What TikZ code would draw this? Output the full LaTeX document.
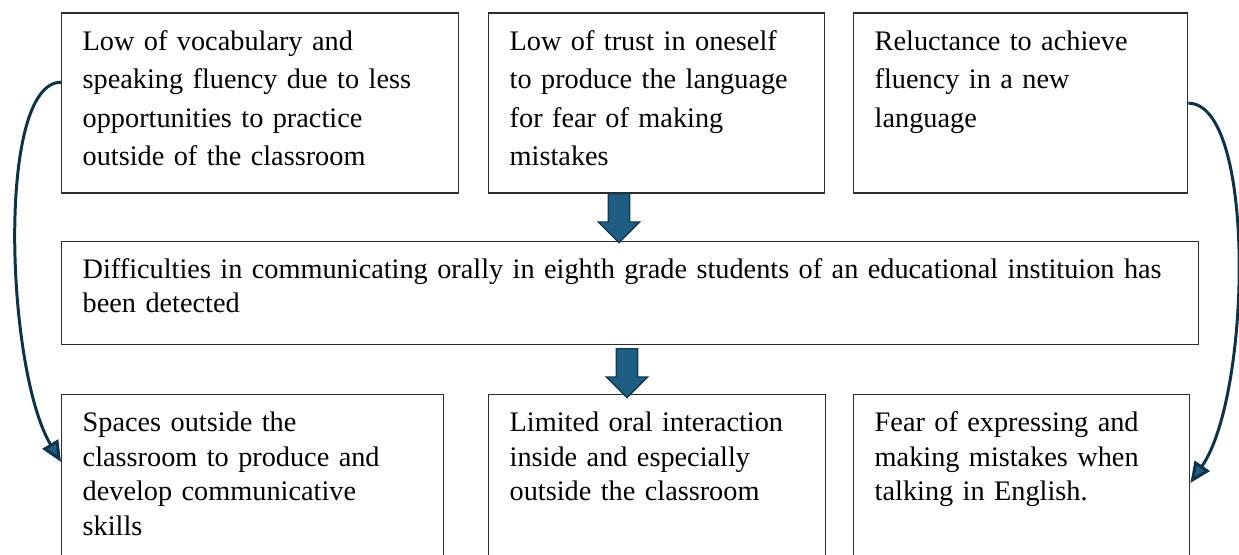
\documentclass[tikz,border=0pt]{standalone}
\usepackage{fontspec}
\setmainfont{Liberation Serif}
\usepackage{tikz}
\usetikzlibrary{arrows.meta,shapes.arrows}

\definecolor{blockblau}{RGB}{31,94,130}
\definecolor{blockrand}{RGB}{20,56,78}
\definecolor{bogenblau}{RGB}{14,50,71}
\definecolor{rahmen}{RGB}{45,45,45}

\begin{document}
\begin{tikzpicture}[x=0.02cm, y=-0.02cm,
		kasten/.style={draw=rahmen, line width=0.8pt, anchor=north west, align=left,
			inner xsep=0.42cm, inner ysep=0.2cm, text height=0.54cm},
		oben/.style={kasten, text depth=2.66cm, font=\fontsize{16.1}{21.9}\selectfont},
		mitte/.style={kasten, text depth=1.12cm, font=\fontsize{16.1}{19.4}\selectfont},
		unten/.style={kasten, text depth=3cm, font=\fontsize{16.1}{19.6}\selectfont},
		pfeil/.style={single arrow, draw=blockrand, fill=blockblau, line width=0.8pt,
			rotate=-90, anchor=tail, minimum height=0.98cm, inner xsep=0pt, inner ysep=0.2cm,
			single arrow head extend=0.2cm},
		bogen/.style={draw=bogenblau, line width=1.7pt,
			-{Triangle[length=0.42cm, width=0.36cm, fill=blockblau]}}]
		\clip (0,0) rectangle (1239,554);
		
		%Ursachen
		\node[oben, text width=7.10cm] (vocab) at (61,12.5)
			{Low of vocabulary and\\ speaking fluency due to less\\ opportunities to practice\\ outside of the classroom};
		\node[oben, text width=5.88cm] (trust) at (488,12.5)
			{Low of trust in oneself\\ to produce the language\\ for fear of making\\ mistakes};
		\node[oben, text width=5.84cm] (reluct) at (853,12.5)
			{Reluctance to achieve\\ fluency in a new\\ language};
		
		%Problem
		\node[mitte, text width=21.90cm] (problem) at (61,241)
			{Difficulties in communicating orally in eighth grade students of an educational instituion has\\ been detected};
		
		%Folgen
		\node[unten, text width=6.80cm] (spaces) at (61,394)
			{Spaces outside the\\ classroom to produce and\\ develop communicative\\ skills};
		\node[unten, text width=5.90cm] (interact) at (488,394)
			{Limited oral interaction\\ inside and especially\\ outside the classroom};
		\node[unten, text width=5.88cm] (fearerr) at (853,394)
			{Fear of expressing and\\ making mistakes when\\ talking in English.};
		
		\node[pfeil] (pfeilA) at (619,193) {};
		\node[pfeil] (pfeilB) at (627,348) {};
		
		\draw[bogen] (vocab.174) .. controls +(-65,0) and +(-55,-92) .. ([yshift=-1.36cm]spaces.north west);
		\draw[bogen] (reluct.east) .. controls +(68,0) and +(61,-88) .. ([yshift=-1.78cm]fearerr.north east);
\end{tikzpicture}
\end{document}
